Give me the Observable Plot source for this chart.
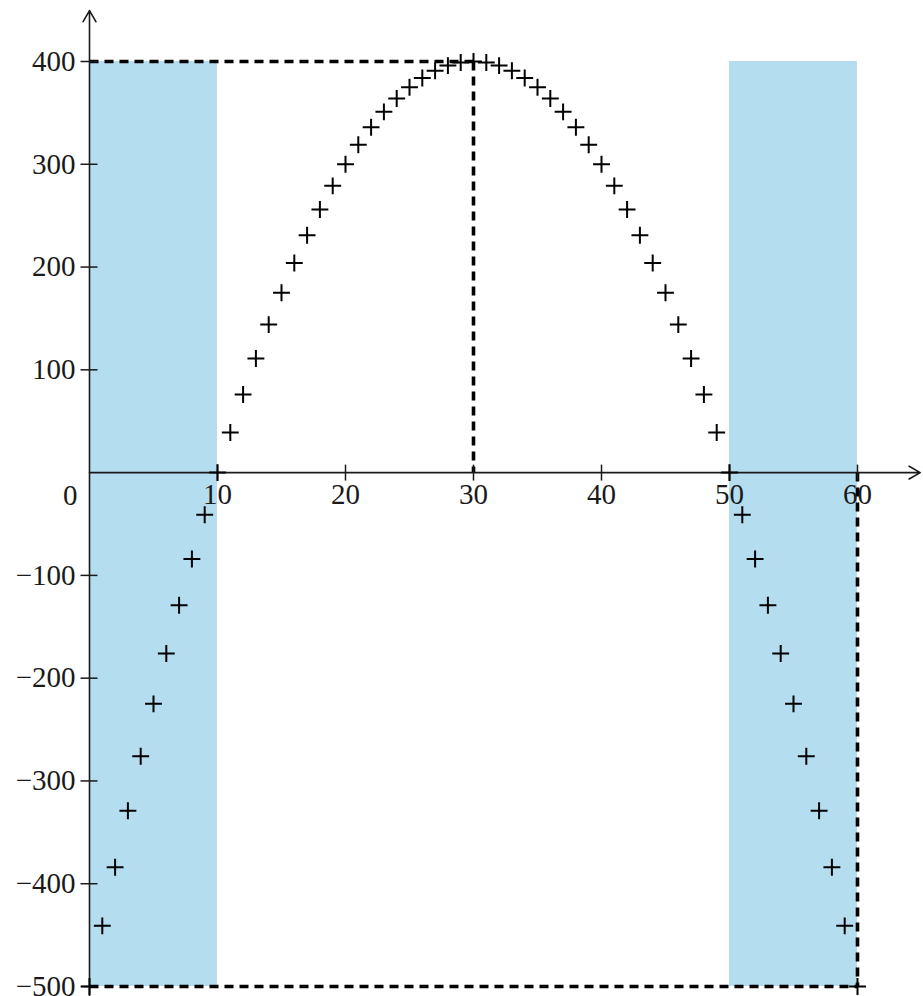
<!DOCTYPE html>
<html>
<head>
<meta charset="utf-8">
<script src="https://cdn.jsdelivr.net/npm/d3@7"></script>
<script src="https://cdn.jsdelivr.net/npm/@observablehq/plot@0.6"></script>
<style>
  html, body { margin: 0; padding: 0; background: #fff; }
  #chart svg { display: block; }
</style>
</head>
<body>
<div id="chart"></div>
<script>
// ---- data ----
const xs = [0,1,2,3,4,5,6,7,8,9,10,11,12,13,14,15,16,17,18,19,20,21,22,23,24,25,26,27,28,29,30,
            31,32,33,34,35,36,37,38,39,40,41,42,43,44,45,46,47,48,49,50,51,52,53,54,55,56,57,58,59,60];
const ys = [-500,-441,-384,-329,-276,-225,-176,-129,-84,-41,0,39,76,111,144,175,204,231,256,279,300,
            319,336,351,364,375,384,391,396,399,400,399,396,391,384,375,364,351,336,319,300,
            279,256,231,204,175,144,111,76,39,0,-41,-84,-129,-176,-225,-276,-329,-384,-441,-500];
const bandStarts = [0, 50];
const bandEnds = [10, 60];
const bandBottom = -500;
const bandTop = 400;
const xTicks = [10, 20, 30, 40, 50, 60];
const yTicks = [400, 300, 200, 100, -100, -200, -300, -400, -500];
const peakX = 30, peakY = 400;
const xMax = 60, yMin = -500;
const xAxisEnd = 64.9, yAxisTop = 449.5, yAxisBottom = -510;

const points = xs.map((x, i) => ({x, y: ys[i]}));
const bands = bandStarts.map((s, i) => ({x1: s, x2: bandEnds[i], y1: bandBottom, y2: bandTop}));
const dashed = [
  {x1: 0, y1: peakY, x2: peakX, y2: peakY},
  {x1: peakX, y1: peakY, x2: peakX, y2: 0},
  {x1: 0, y1: yMin, x2: xMax, y2: yMin},
  {x1: xMax, y1: 0, x2: xMax, y2: yMin}
];
const fmt = v => v < 0 ? "\u2212" + Math.abs(v) : String(v);

const vTick = {draw(ctx) { ctx.moveTo(0, -8); ctx.lineTo(0, 8); }};
const hTick = {draw(ctx) { ctx.moveTo(-9, 0); ctx.lineTo(8, 0); }};
const FONT = "Liberation Serif, serif";
const INK = "#1a1a1a";
const FS = 29;

const chart = Plot.plot({
  width: 923,
  height: 996,
  marginLeft: 89,
  marginRight: 66,
  marginTop: 61,
  marginBottom: 10,
  x: {domain: [0, 60], axis: null},
  y: {domain: [-500, 400], axis: null},
  style: {fontFamily: FONT, background: "#fff"},
  marks: [
    Plot.rect(bands, {x1: "x1", x2: "x2", y1: "y1", y2: "y2", fill: "#b4ddef"}),
    Plot.link(dashed, {x1: "x1", y1: "y1", x2: "x2", y2: "y2", stroke: "#000",
                       strokeWidth: 3.6, strokeDasharray: "9,6"}),
    Plot.arrow([{x1: 0, y1: 0, x2: xAxisEnd, y2: 0}], {x1: "x1", y1: "y1", x2: "x2", y2: "y2",
               stroke: INK, strokeWidth: 1.6, headLength: 12}),
    Plot.arrow([{x1: 0, y1: yAxisBottom, x2: 0, y2: yAxisTop}], {x1: "x1", y1: "y1", x2: "x2", y2: "y2",
               stroke: INK, strokeWidth: 1.6, headLength: 12}),
    Plot.dot(xTicks, {x: d => d, y: 0, symbol: vTick, fill: "none", stroke: INK, strokeWidth: 1.5}),
    Plot.dot(yTicks, {x: 0, y: d => d, symbol: hTick, fill: "none", stroke: INK, strokeWidth: 1.5}),
    Plot.text(xTicks, {x: d => d, y: 0, text: d => fmt(d), dy: 22, fontSize: FS, fill: INK,
                       fontFamily: FONT}),
    Plot.text(yTicks, {x: 0, y: d => d, text: d => fmt(d), dx: -14, textAnchor: "end",
                       fontSize: FS, fill: INK, fontFamily: FONT}),
    Plot.text([0], {x: 0, y: 0, text: d => fmt(d), dx: -12, dy: 23, textAnchor: "end",
                    fontSize: FS, fill: INK, fontFamily: FONT}),
    Plot.dot(points, {x: "x", y: "y", symbol: "plus", r: 5.5, stroke: "#000", strokeWidth: 2})
  ]
});
document.getElementById("chart").appendChild(chart);
</script>
</body>
</html>
